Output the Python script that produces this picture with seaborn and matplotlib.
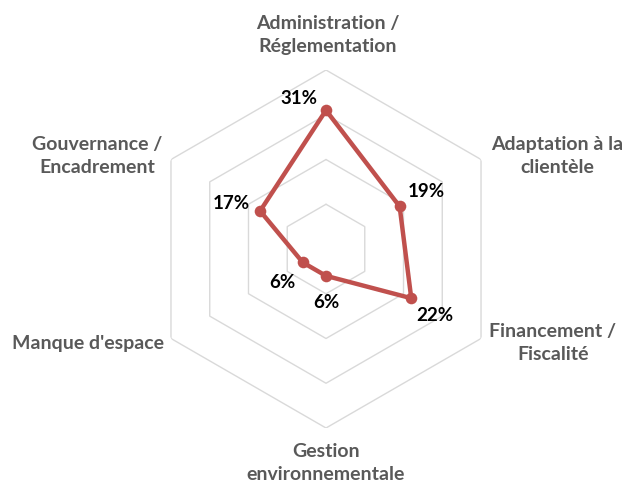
import numpy as np
import pandas as pd
import matplotlib
matplotlib.use("Agg")
import matplotlib.pyplot as plt
import seaborn as sns

# ==================== données ====================
categories = [
    "Administration /\nRéglementation",
    "Adaptation à la\nclientèle",
    "Financement /\nFiscalité",
    "Gestion\nenvironnementale",
    "Manque d'espace",
    "Gouvernance /\nEncadrement",
]
values = [0.31, 0.19, 0.22, 0.06, 0.06, 0.17]
value_labels = ["31%", "19%", "22%", "6%", "6%", "17%"]
grid_levels = [0.1, 0.2, 0.3, 0.4]

# ==================== style ====================
sns.set_style("white")
plt.rcParams['font.family'] = ['Lato', 'DejaVu Sans']

RED = "#C0504D"
GRID = "#D9D9D9"
LABEL = "#595959"

W, H = 625, 486
fig = plt.figure(figsize=(W / 100, H / 100), dpi=100)

# axe polaire : centre (326, 249) px, rayon 179 px
cx, cy, R = 326, 249, 179
ax = fig.add_axes([(cx - R) / W, (H - cy - R) / H, 2 * R / W, 2 * R / H],
                  projection="polar")
ax.set_theta_zero_location("N")
ax.set_theta_direction(-1)
ax.set_ylim(0, max(grid_levels))
ax.grid(False)
ax.spines["polar"].set_visible(False)
ax.set_xticks([])
ax.set_yticks([])
ax.patch.set_alpha(0)

n = len(categories)
angles = np.linspace(0, 2 * np.pi, n, endpoint=False)
angles_closed = np.append(angles, 2 * np.pi)

# grille hexagonale
for lvl in grid_levels:
    ax.plot(angles_closed, [lvl] * (n + 1), color=GRID, lw=1.0, zorder=1)

# série (polygone fermé)
df = pd.DataFrame({"theta": angles_closed, "r": values + values[:1]})
sns.lineplot(data=df, x="theta", y="r", sort=False, estimator=None, ax=ax,
             color=RED, lw=3.2, zorder=3)
sns.scatterplot(data=df.iloc[:-1], x="theta", y="r", ax=ax, color=RED,
                s=70, edgecolor=RED, linewidth=0, zorder=4)
ax.set_xlabel("")
ax.set_ylabel("")

# étiquettes de valeurs (décalage en pixels)
offsets = [(-27, 12), (27, 15), (24, -17), (0, -27), (-20, -20), (-29, 7)]
for a, v, txt, off in zip(angles, values, value_labels, offsets):
    ax.annotate(txt, xy=(a, v), xytext=off, textcoords="offset pixels",
                ha="center", va="center", fontsize=13.5, fontweight="bold",
                color="black", zorder=5)

# étiquettes des catégories (position en pixels de la figure)
cat_pos = [(328, 35, "center"), (557, 156, "center"), (553, 343, "center"),
           (326, 463, "center"), (164, 343, "right"), (97, 156, "center")]
for label, (px, py, ha) in zip(categories, cat_pos):
    fig.text(px / W, 1 - py / H, label, ha=ha, va="center",
             fontsize=14, fontweight="bold", color=LABEL,
             linespacing=1.4, multialignment="center")

fig.savefig("out.png", dpi=100)
